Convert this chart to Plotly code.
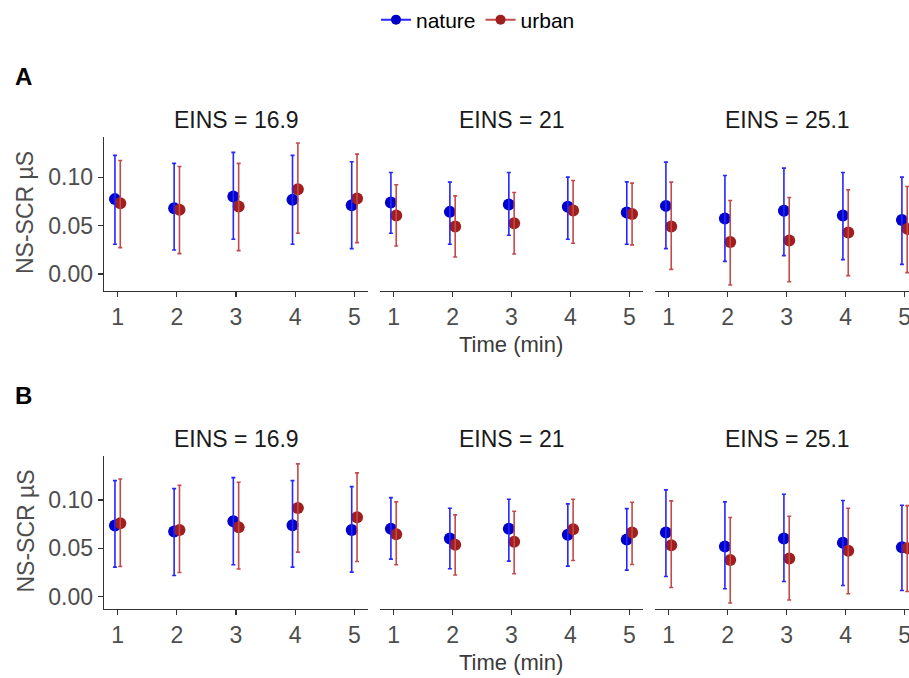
import plotly.graph_objects as go

# ---------------- data ----------------
time_min = [1, 2, 3, 4, 5]
facets = ["EINS = 16.9", "EINS = 21", "EINS = 25.1"]
groups = ["nature", "urban"]
y_ticks = [0.00, 0.05, 0.10]
y_tick_labels = ["0.00", "0.05", "0.10"]

# Panel A
A_nature_mean = [[0.0775, 0.0681, 0.0802, 0.0768, 0.0712],
                 [0.0740, 0.0643, 0.0719, 0.0695, 0.0636],
                 [0.0705, 0.0574, 0.0654, 0.0605, 0.0560]]
A_nature_upper = [[0.1228, 0.1145, 0.1259, 0.1228, 0.1162],
                  [0.1051, 0.0951, 0.1051, 0.1003, 0.0954],
                  [0.1158, 0.1020, 0.1096, 0.1051, 0.1003]]
A_nature_lower = [[0.0308, 0.0249, 0.0360, 0.0308, 0.0263],
                  [0.0422, 0.0308, 0.0401, 0.0360, 0.0308],
                  [0.0263, 0.0131, 0.0190, 0.0149, 0.0100]]
A_urban_mean = [[0.0733, 0.0664, 0.0699, 0.0878, 0.0782],
                [0.0605, 0.0491, 0.0526, 0.0657, 0.0622],
                [0.0491, 0.0332, 0.0346, 0.0429, 0.0467]]
A_urban_upper = [[0.1175, 0.1113, 0.1145, 0.1356, 0.1241],
                 [0.0923, 0.0809, 0.0843, 0.0968, 0.0941],
                 [0.0951, 0.0761, 0.0792, 0.0871, 0.0906]]
A_urban_lower = [[0.0273, 0.0211, 0.0242, 0.0422, 0.0325],
                 [0.0290, 0.0176, 0.0207, 0.0318, 0.0301],
                 [0.0048, -0.0114, -0.0080, -0.0017, 0.0014]]

# Panel B
B_nature_mean = [[0.0735, 0.0673, 0.0780, 0.0739, 0.0690],
                 [0.0701, 0.0601, 0.0701, 0.0639, 0.0590],
                 [0.0663, 0.0518, 0.0601, 0.0556, 0.0511]]
B_nature_upper = [[0.1201, 0.1118, 0.1232, 0.1201, 0.1139],
                  [0.1025, 0.0915, 0.1008, 0.0960, 0.0911],
                  [0.1105, 0.0980, 0.1060, 0.0994, 0.0946]]
B_nature_lower = [[0.0304, 0.0217, 0.0328, 0.0304, 0.0252],
                  [0.0387, 0.0287, 0.0366, 0.0314, 0.0273],
                  [0.0207, 0.0080, 0.0155, 0.0114, 0.0062]]
B_urban_mean = [[0.0760, 0.0690, 0.0718, 0.0918, 0.0822],
                [0.0646, 0.0535, 0.0566, 0.0697, 0.0663],
                [0.0532, 0.0377, 0.0393, 0.0473, 0.0501]]
B_urban_upper = [[0.1218, 0.1153, 0.1184, 0.1374, 0.1281],
                 [0.0980, 0.0846, 0.0884, 0.1008, 0.0977],
                 [0.0991, 0.0818, 0.0832, 0.0915, 0.0942]]
B_urban_lower = [[0.0311, 0.0248, 0.0284, 0.0460, 0.0362],
                 [0.0328, 0.0222, 0.0235, 0.0373, 0.0331],
                 [0.0093, -0.0068, -0.0037, 0.0028, 0.0052]]

# ---------------- styling ----------------
W, H = 909, 678
FONT = "Liberation Sans, Arial, sans-serif"
point_color = {"nature": "#0000C8", "urban": "#A01E1E"}
bar_color = {"nature": "#2626FF", "urban": "#C24A4A"}
dodge = {"nature": -0.045, "urban": 0.045}
TICK_GRAY = "#4D4D4D"
AXIS_DARK = "#333333"

panels = {
    "A": {"nature": (A_nature_mean, A_nature_upper, A_nature_lower),
          "urban": (A_urban_mean, A_urban_upper, A_urban_lower)},
    "B": {"nature": (B_nature_mean, B_nature_upper, B_nature_lower),
          "urban": (B_urban_mean, B_urban_upper, B_urban_lower)},
}

# pixel layout (left, right) of facets, (top, bottom) of panels
facet_px = [(104, 368), (380, 643), (655, 909)]
x_ranges = [[0.77, 5.23], [0.77, 5.23], [0.77, 5.075]]
panel_px = {"A": (137, 291), "B": (456, 609)}
y_ranges = {"A": [-0.0176, 0.1418], "B": [-0.013, 0.1456]}


def fx(px):
    return px / W


def fy(px):
    return 1 - px / H


fig = go.Figure()
layout = {}
annotations = []

idx = 0
for pname in ["A", "B"]:
    top, bot = panel_px[pname]
    for fi in range(3):
        idx += 1
        xa = "x" if idx == 1 else f"x{idx}"
        ya = "y" if idx == 1 else f"y{idx}"
        xkey = "xaxis" if idx == 1 else f"xaxis{idx}"
        ykey = "yaxis" if idx == 1 else f"yaxis{idx}"
        left, right = facet_px[fi]
        layout[xkey] = dict(
            domain=[fx(left), min(fx(right), 1.0)], anchor=ya, range=x_ranges[fi],
            tickvals=time_min, ticktext=[str(t) for t in time_min],
            showgrid=False, zeroline=False, showline=True, linecolor=AXIS_DARK,
            linewidth=1.3, ticks="outside", ticklen=5, tickwidth=1.2, tickcolor=AXIS_DARK,
            tickfont=dict(family=FONT, size=23, color=TICK_GRAY),
            ticklabeloverflow="allow", fixedrange=True, automargin=False,
        )
        layout[ykey] = dict(
            domain=[fy(bot), fy(top)], anchor=xa, range=y_ranges[pname],
            tickvals=y_ticks, ticktext=y_tick_labels,
            showgrid=False, zeroline=False,
            showline=(fi == 0), linecolor=AXIS_DARK, linewidth=1.3,
            ticks="outside" if fi == 0 else "", ticklen=5, tickwidth=1.2,
            tickcolor=AXIS_DARK, showticklabels=(fi == 0),
            tickfont=dict(family=FONT, size=23, color=TICK_GRAY), fixedrange=True,
            automargin=False,
        )
        # points first
        for g in groups:
            mean, up, lo = panels[pname][g]
            fig.add_trace(go.Scatter(
                x=[t + dodge[g] for t in time_min], y=mean[fi],
                mode="markers", xaxis=xa, yaxis=ya, showlegend=False,
                marker=dict(color=point_color[g], size=12, line=dict(width=0)),
                cliponaxis=True, hoverinfo="skip",
            ))
        # error bars on top
        for g in groups:
            mean, up, lo = panels[pname][g]
            fig.add_trace(go.Scatter(
                x=[t + dodge[g] for t in time_min], y=mean[fi],
                mode="markers", xaxis=xa, yaxis=ya, showlegend=False,
                marker=dict(color=point_color[g], size=1, opacity=0),
                error_y=dict(type="data", symmetric=False,
                             array=[u - m for u, m in zip(up[fi], mean[fi])],
                             arrayminus=[m - l for m, l in zip(mean[fi], lo[fi])],
                             color=bar_color[g], thickness=1.6, width=2),
                cliponaxis=False, hoverinfo="skip",
            ))
        # facet strip
        annotations.append(dict(
            text=facets[fi], xref="paper", yref="paper",
            x=fx((left + (right if fi < 2 else 919)) / 2), y=fy(top - 17),
            xanchor="center", yanchor="middle", showarrow=False,
            font=dict(family=FONT, size=23, color="#1A1A1A"),
        ))
    # panel letter
    annotations.append(dict(
        text=f"<b>{pname}</b>", xref="paper", yref="paper",
        x=fx(23), y=fy(top - 61), xanchor="center", yanchor="middle",
        showarrow=False, font=dict(family=FONT, size=24, color="#000000"),
    ))
    # x axis title
    annotations.append(dict(
        text="Time (min)", xref="paper", yref="paper",
        x=fx(511), y=fy(bot + 53), xanchor="center", yanchor="middle",
        showarrow=False, font=dict(family=FONT, size=22, color="#3A3A3A"),
    ))
    # y axis title
    annotations.append(dict(
        text="NS-SCR µS", xref="paper", yref="paper", textangle=-90,
        x=fx(25), y=fy((top + bot) / 2 - 1), xanchor="center", yanchor="middle",
        showarrow=False, font=dict(family=FONT, size=23, color=TICK_GRAY),
    ))

# legend-only traces
for g in groups:
    fig.add_trace(go.Scatter(
        x=[None], y=[None], mode="lines+markers", name=g,
        line=dict(color=bar_color[g], width=2),
        marker=dict(color=point_color[g], size=10),
        xaxis="x", yaxis="y", showlegend=True,
    ))

fig.update_layout(
    width=W, height=H, autosize=False,
    margin=dict(l=0, r=0, t=0, b=0, autoexpand=False),
    paper_bgcolor="white", plot_bgcolor="white",
    showlegend=True, hovermode=False,
    legend=dict(orientation="h", x=fx(376), xanchor="left", y=fy(20), yanchor="middle",
                font=dict(family=FONT, size=21, color="#000000"),
                itemwidth=30, tracegroupgap=0, bgcolor="rgba(0,0,0,0)"),
    annotations=annotations,
    **layout,
)

fig.write_html("out.html",
               config={"displayModeBar": False, "staticPlot": True},
               post_script="document.body.style.margin='0';document.body.style.padding='0';document.documentElement.style.overflow='hidden';")
